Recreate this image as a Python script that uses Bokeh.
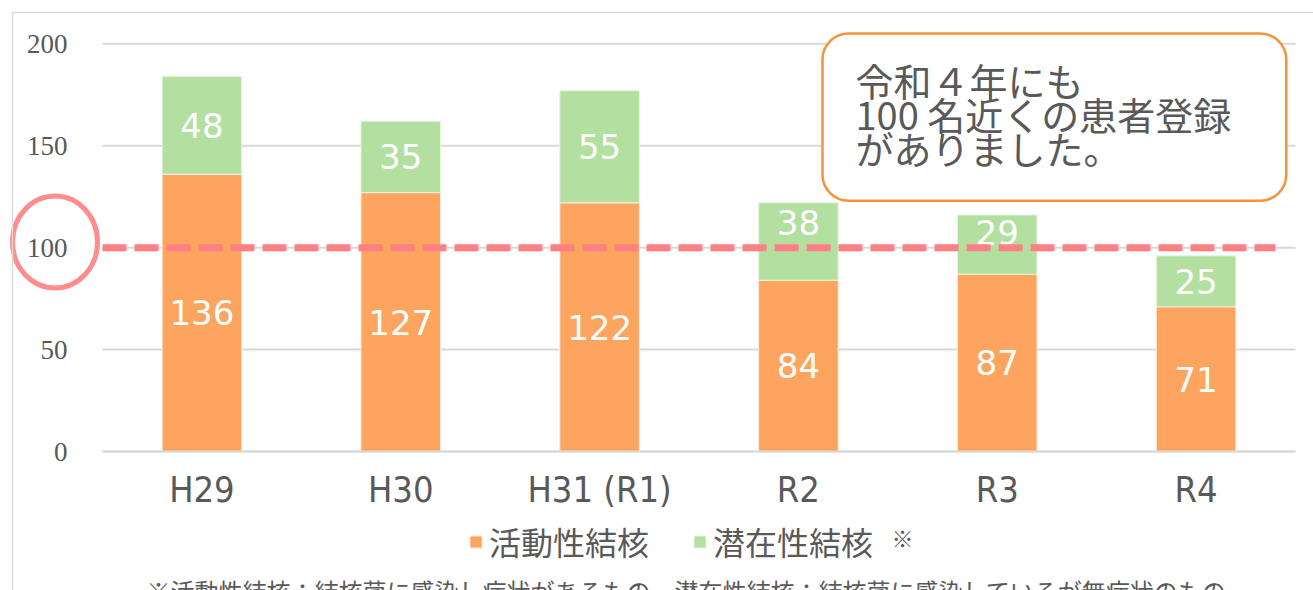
from bokeh.plotting import figure
from bokeh.models import ColumnDataSource, Label, Legend, LegendItem, FixedTicker, Range1d
from bokeh.embed import file_html
from bokeh.resources import INLINE
from bokeh.core.properties import value

# ---------------- data ----------------
categories = ["H29", "H30", "H31 (R1)", "R2", "R3", "R4"]
active = [136, 127, 122, 84, 87, 71]      # 活動性結核
latent = [48, 35, 55, 38, 29, 25]         # 潜在性結核
y_ticks = [0, 50, 100, 150, 200]
reference_level = 100
legend_labels = ["活動性結核", "潜在性結核"]
callout_text = "令和４年にも\n100 名近くの患者登録\nがありました。"
note_text = "※活動性結核：結核菌に感染し症状があるもの　潜在性結核：結核菌に感染しているが無症状のもの"

# ---------------- layout constants (canvas px) ----------------
W, H = 1313, 590
PLOT_L, PLOT_R = 102, 1295      # extent of the category band
ZERO_Y = 451                    # pixel row of value 0
PX_PER_UNIT_Y = 2.0385
N = len(categories)
PX_PER_CAT = (PLOT_R - PLOT_L) / N

ORANGE = "#FDA55F"
GREEN = "#B3DFA1"
GRAY_TXT = "#595959"
GRID = "#D9D9D9"
JP = "'Noto Sans CJK JP'"

X0 = -0.5 - PLOT_L / PX_PER_CAT
X1 = X0 + W / PX_PER_CAT
Y0 = -(H - ZERO_Y) / PX_PER_UNIT_Y
Y1 = ZERO_Y / PX_PER_UNIT_Y


def dx(px):
    return X0 + px / PX_PER_CAT


def dy(py):
    return (ZERO_Y - py) / PX_PER_UNIT_Y


xs = list(range(N))
total = [a + b for a, b in zip(active, latent)]

p = figure(width=W, height=H, output_backend="svg", toolbar_location=None,
           x_range=Range1d(X0, X1), y_range=Range1d(Y0, Y1),
           min_border=0)
p.outline_line_color = None
p.background_fill_color = "white"
p.border_fill_color = "white"
p.xgrid.grid_line_color = None
p.ygrid.grid_line_color = None

# horizontal grid lines across the category band
p.segment(x0=[-0.5] * len(y_ticks), x1=[N - 0.5] * len(y_ticks),
          y0=y_ticks, y1=y_ticks, line_color=GRID, line_width=2)

src = ColumnDataSource(dict(x=xs, active=active, total=total))
r_act = p.vbar(x="x", bottom=0, top="active", width=0.4, source=src,
               fill_color=ORANGE, line_color="#FFE9D6", line_width=1)
r_lat = p.vbar(x="x", bottom="active", top="total", width=0.4, source=src,
               fill_color=GREEN, line_color="#E6F5DF", line_width=1)

# value labels (latent labels for R2, R3 were nudged up in the original)
lat_nudge = {3: -19, 4: -12}
lab_x = xs + xs
lab_y = [a / 2 for a in active] + [a + b / 2 for a, b in zip(active, latent)]
lab_t = [str(v) for v in active] + [str(v) for v in latent]
lab_off = [0] * N + [lat_nudge.get(i, 0) for i in range(N)]
p.text(x="x", y="y", text="t", y_offset="o",
       source=ColumnDataSource(dict(x=lab_x, y=lab_y, t=lab_t, o=lab_off)),
       text_color="white", text_font=value("DejaVu Sans"), text_font_size="34px",
       text_align="center", text_baseline="middle")

# dashed reference line at 100
p.line(x=[-0.5, dx(1275)], y=[reference_level, reference_level],
       line_color="#FF7F83", line_width=7, line_dash="24 8")

# axes, fixed at the edges of the category band
p.yaxis.fixed_location = -0.5
p.yaxis.ticker = FixedTicker(ticks=y_ticks)
p.yaxis.axis_line_color = None
p.yaxis.major_tick_line_color = None
p.yaxis.minor_tick_line_color = None
p.yaxis.major_label_text_font = "Liberation Serif"
p.yaxis.major_label_text_font_size = "27px"
p.yaxis.major_label_text_color = GRAY_TXT
p.yaxis.major_label_standoff = 29

p.xaxis.fixed_location = 0
p.xaxis.bounds = (-0.5, N - 0.5)
p.xaxis.ticker = FixedTicker(ticks=xs)
p.xaxis.major_label_overrides = {i: c for i, c in enumerate(categories)}
p.xaxis.axis_line_color = GRID
p.xaxis.axis_line_width = 2
p.xaxis.major_tick_line_color = None
p.xaxis.minor_tick_line_color = None
p.xaxis.major_label_text_font = "'Liberation Sans Narrow', 'DejaVu Sans Condensed', 'Noto Sans CJK JP', sans-serif"
p.xaxis.major_label_text_font_size = "36px"
p.xaxis.major_label_text_color = GRAY_TXT
p.xaxis.major_label_standoff = 11

# legend
legend = Legend(items=[LegendItem(label=legend_labels[0], renderers=[r_act]),
                       LegendItem(label=legend_labels[1], renderers=[r_lat])],
                orientation="horizontal", location=(468, 26),
                glyph_width=15, glyph_height=15, label_standoff=6, spacing=43,
                padding=0, margin=0, border_line_color=None,
                background_fill_alpha=0,
                label_text_font=JP, label_text_font_size="32px",
                label_text_color=GRAY_TXT)
p.add_layout(legend)

p.add_layout(Label(x=dx(891), y=dy(520), text="※", anchor="top_left",
                   text_align="left", text_baseline="top",
                   text_font=JP, text_font_size="22px", text_color=GRAY_TXT))

# footnote (cut off at the bottom like the original)
p.add_layout(Label(x=dx(146), y=dy(572), text=note_text, anchor="top_left",
                   text_align="left", text_baseline="top",
                   text_font=JP, text_font_size="24px", text_color=GRAY_TXT))

# callout box
p.add_layout(Label(x=dx(822), y=dy(33), text=callout_text, anchor="top_left",
                   text_align="left", text_baseline="top",
                   text_font=JP, text_font_size="38px", text_color=GRAY_TXT,
                   text_line_height=0.62,
                   padding=dict(left=33, right=55, top=18, bottom=26),
                   border_radius=26,
                   background_fill_color="white",
                   border_line_color="#F7923C", border_line_width=2.5))

# circle around the "100" tick label
p.ellipse(x=[dx(54.5)], y=[dy(241.5)], width=85, height=92,
          width_units="screen", height_units="screen",
          fill_color=None, line_color="#FF8D8D", line_width=5)

# chart-area border (left and top edges visible)
p.add_layout(Label(x=dx(12), y=dy(12), text=" ", anchor="top_left",
                   text_font_size="1px",
                   padding=dict(left=0, right=1400, top=0, bottom=700),
                   background_fill_color=None,
                   border_line_color=GRID, border_line_width=1.5))

open("out.html", "w").write(file_html(p, INLINE))
